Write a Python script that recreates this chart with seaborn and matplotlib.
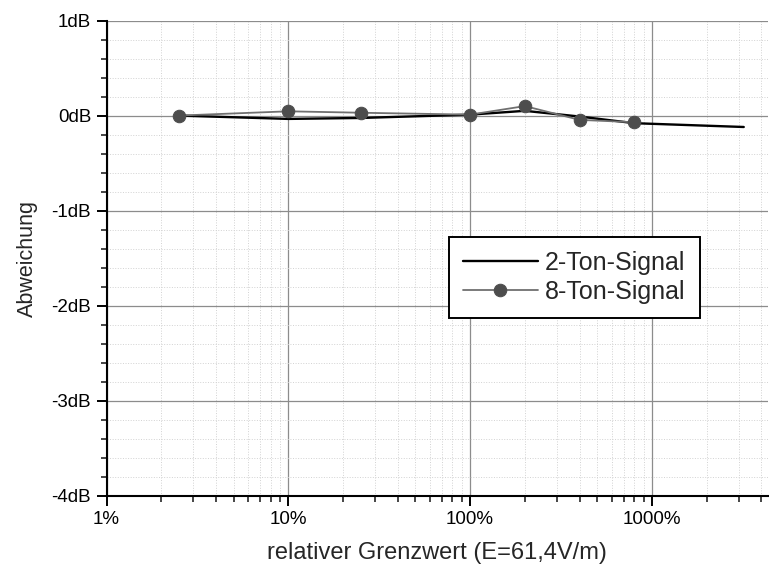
import numpy as np
import pandas as pd
import matplotlib
matplotlib.use("Agg")
import matplotlib.pyplot as plt
from matplotlib.ticker import FixedLocator, FuncFormatter, LogLocator, NullFormatter
import seaborn as sns

# Relative limit value in percent of E = 61.4 V/m
x_2ton = [2.5, 10, 25, 100, 200, 400, 800, 1600, 3200]
dev_2ton = [0.0, -0.035, -0.025, 0.01, 0.05, -0.01, -0.08, -0.10, -0.12]

x_8ton = [2.5, 10, 25, 100, 200, 400, 800]
dev_8ton = [0.0, 0.045, 0.03, 0.01, 0.10, -0.045, -0.07]

series_names = ["2-Ton-Signal", "8-Ton-Signal"]
x_ticks = [1, 10, 100, 1000]
x_tick_labels = ["1%", "10%", "100%", "1000%"]
y_ticks = [1, 0, -1, -2, -3, -4]
y_tick_labels = ["1dB", "0dB", "-1dB", "-2dB", "-3dB", "-4dB"]

sns.set_style("white")
plt.rcParams["font.family"] = ["Liberation Sans", "DejaVu Sans"]

df2 = pd.DataFrame({"x": x_2ton, "y": dev_2ton})
df8 = pd.DataFrame({"x": x_8ton, "y": dev_8ton})

fig = plt.figure(figsize=(7.69, 5.75), dpi=100)
ax = fig.add_axes([0.1385, 0.1377, 0.8602, 0.8266])
ax.set_xscale("log")

sns.lineplot(data=df2, x="x", y="y", ax=ax, color="black", linewidth=1.7,
             label=series_names[0], sort=False, zorder=3)
sns.lineplot(data=df8, x="x", y="y", ax=ax, color="#707070", linewidth=1.3,
             marker="o", markersize=9, markerfacecolor="#4d4d4d",
             markeredgecolor="#4d4d4d", label=series_names[1], sort=False, zorder=4)

ax.set_xlim(1, 4350)
ax.set_ylim(-4, 1)

ax.xaxis.set_major_locator(FixedLocator(x_ticks))
ax.xaxis.set_major_formatter(FuncFormatter(
    lambda v, p: x_tick_labels[x_ticks.index(v)] if v in x_ticks else ""))
ax.xaxis.set_minor_locator(LogLocator(base=10, subs=np.arange(2, 10), numticks=20))
ax.xaxis.set_minor_formatter(NullFormatter())

ax.yaxis.set_major_locator(FixedLocator(y_ticks))
ax.yaxis.set_major_formatter(FuncFormatter(
    lambda v, p: y_tick_labels[y_ticks.index(int(round(v)))] if int(round(v)) in y_ticks else ""))
ax.yaxis.set_minor_locator(FixedLocator(np.arange(-4, 1.01, 0.2)))

ax.grid(which="major", color="#8c8c8c", linewidth=0.9, linestyle="-")
ax.grid(which="minor", color="#d2d2d2", linewidth=0.7, linestyle=":")
ax.set_axisbelow(True)

for side in ("top", "right"):
    ax.spines[side].set_visible(False)
for side in ("left", "bottom"):
    ax.spines[side].set_linewidth(1.5)
    ax.spines[side].set_color("black")

ax.tick_params(axis="both", which="major", direction="out", length=7, width=1.4,
               labelsize=13.5, colors="black", pad=4, bottom=True, left=True)
ax.tick_params(axis="both", which="minor", direction="out", length=4, width=1.2,
               bottom=True, left=True)

ax.set_xlabel("relativer Grenzwert (E=61,4V/m)", fontsize=17, labelpad=10)
ax.set_ylabel("Abweichung", fontsize=15.5, labelpad=10)

leg = ax.legend(loc="upper left", bbox_to_anchor=(449 / 769, 1 - 237 / 575),
                bbox_transform=fig.transFigure, fontsize=18, frameon=True,
                fancybox=False, handlelength=3.0, handletextpad=0.3,
                borderpad=0.55, labelspacing=0.2, borderaxespad=0)
leg.get_frame().set_edgecolor("black")
leg.get_frame().set_linewidth(1.4)
leg.get_frame().set_facecolor("white")
leg.get_frame().set_alpha(1)

fig.savefig("out.png", dpi=100)
